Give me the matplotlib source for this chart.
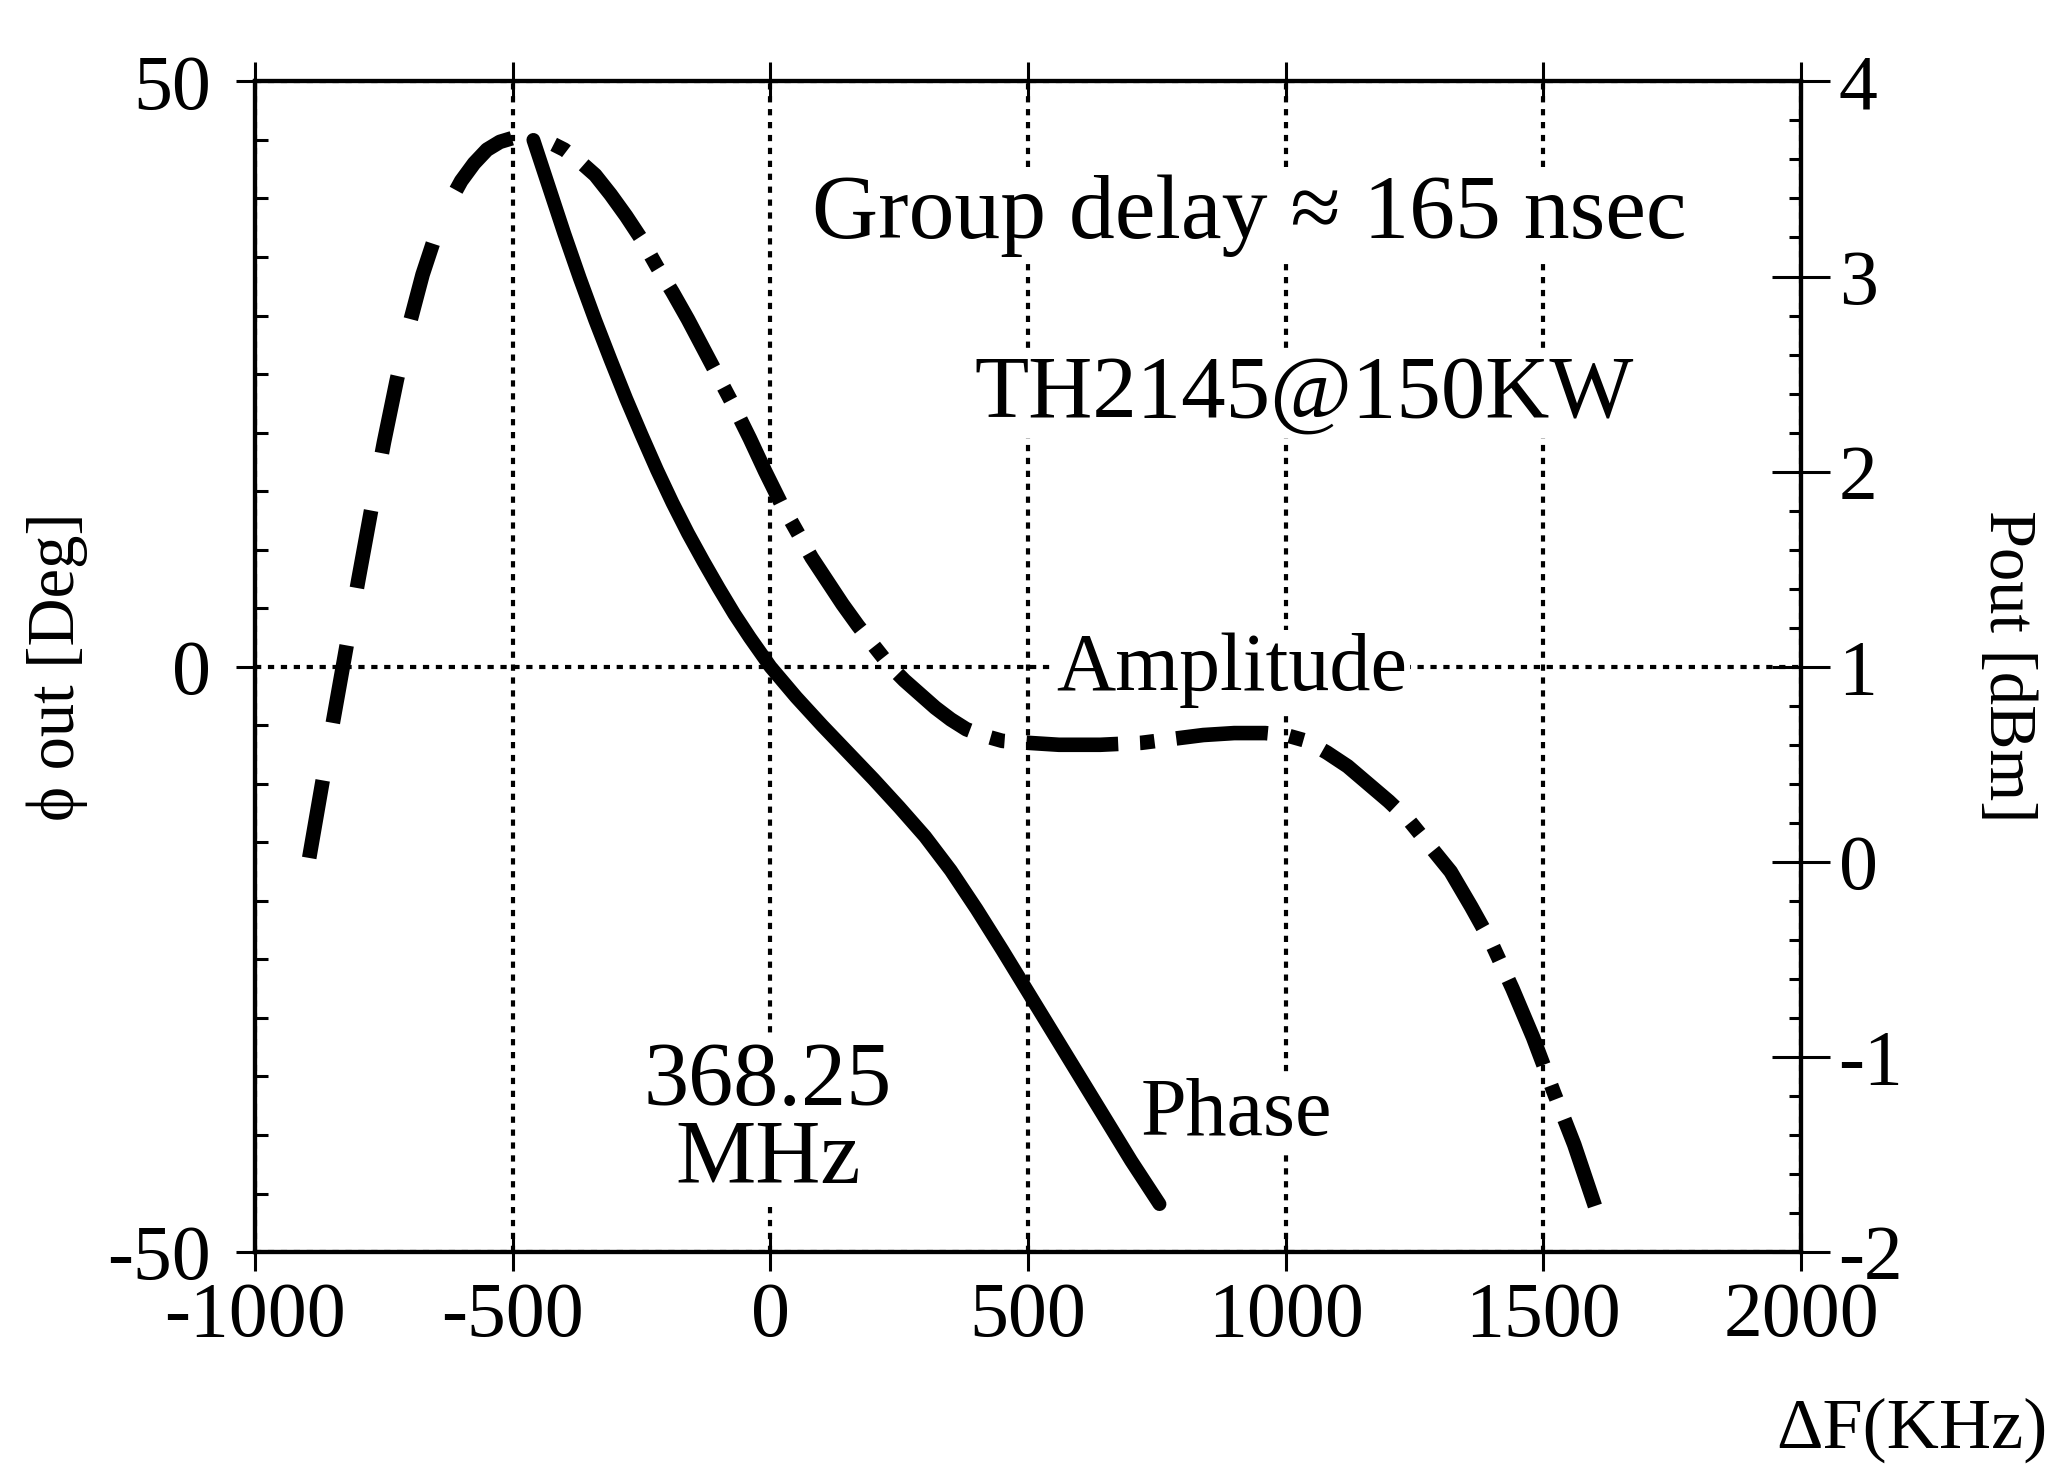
import numpy as np
import matplotlib
matplotlib.use('Agg')
import matplotlib.pyplot as plt
from matplotlib.ticker import MultipleLocator

plt.rcParams['font.family'] = ['Liberation Serif', 'DejaVu Serif']
plt.rcParams['axes.unicode_minus'] = False

# phase (left axis, deg) vs frequency offset (kHz)
phase_f = [-460, -430, -400, -370, -340, -310, -280, -250, -220, -190, -160, -130, -100, -70, -40, 0,
           50, 100, 150, 200, 250, 300, 350, 400, 450, 500, 550, 600, 650, 700, 755]
phase_deg = [45.0, 41.0, 37.0, 33.2, 29.6, 26.2, 22.9, 19.8, 16.8, 14.0, 11.4, 9.0, 6.7, 4.5, 2.5, 0.0,
             -2.6, -5.0, -7.3, -9.6, -12.0, -14.5, -17.4, -20.7, -24.2, -27.8, -31.4, -35.0, -38.6, -42.2, -45.9]

# amplitude (right axis, dBm): rising part up to the peak, then falling part
amp_rise_f = [-895, -870, -850, -825, -800, -775, -750, -725, -700, -675, -650, -625, -600, -575, -550,
              -525, -500, -475, -461]
amp_rise = [0.02, 0.40, 0.70, 1.07, 1.44, 1.80, 2.15, 2.47, 2.76, 3.01, 3.21, 3.37, 3.49, 3.58, 3.65,
            3.69, 3.71, 3.72, 3.71]
amp_fall_f = [-461, -430, -400, -370, -340, -310, -280, -250, -220, -190, -160, -130, -100, -70, -40, -10,
              20, 50, 80, 110, 140, 170, 200, 230, 260, 290, 320, 350, 380, 410, 450, 500, 560, 640, 720,
              780, 840, 900, 960, 1000, 1040, 1080, 1120, 1160, 1200, 1240, 1280, 1320, 1360, 1400, 1440,
              1480, 1520, 1560, 1611]
amp_fall = [3.71, 3.69, 3.65, 3.59, 3.52, 3.42, 3.31, 3.19, 3.05, 2.92, 2.78, 2.63, 2.48, 2.33, 2.17, 2.00,
            1.84, 1.70, 1.56, 1.44, 1.32, 1.21, 1.11, 1.01, 0.93, 0.86, 0.79, 0.73, 0.68, 0.65, 0.62, 0.61,
            0.60, 0.60, 0.61, 0.63, 0.65, 0.66, 0.66, 0.65, 0.62, 0.56, 0.49, 0.40, 0.31, 0.21, 0.08, -0.05,
            -0.23, -0.42, -0.65, -0.90, -1.18, -1.45, -1.85]

fig = plt.figure(figsize=(20.49, 14.80), dpi=100)
ax = fig.add_axes([0.1245, 0.154, 0.7545, 0.791])
ax2 = ax.twinx()

ax.plot(phase_f, phase_deg, color='black', lw=10, solid_capstyle='round',
        solid_joinstyle='round', zorder=3)
ax2.plot(amp_rise_f, amp_rise, color='black', lw=10.5, linestyle=(0, (5.4, 4.0)), zorder=3)
ax2.plot(amp_fall_f, amp_fall, color='black', lw=10.5,
         linestyle=(6.3, (6.3, 1.5, 1.0, 1.5)), zorder=3)

ax.set_xlim(-1000, 2000)
ax.set_ylim(-50, 50)
ax2.set_ylim(-2, 4)
ax.set_xticks([-1000, -500, 0, 500, 1000, 1500, 2000])
ax.set_yticks([-50, 0, 50])
ax.yaxis.set_minor_locator(MultipleLocator(5))
ax2.set_yticks([-2, -1, 0, 1, 2, 3, 4])
ax2.yaxis.set_minor_locator(MultipleLocator(0.2))

ax.grid(True, which='major', color='black', lw=3, dashes=(1.5, 1.6))

for a in (ax, ax2):
    for s in a.spines.values():
        s.set_linewidth(3)

ax.tick_params(axis='x', which='major', direction='inout', length=28, width=2.2,
               top=True, bottom=True, labelsize=56, pad=7)
ax.tick_params(axis='y', which='major', direction='out', length=14, width=2.2,
               labelsize=56, pad=18)
ax.tick_params(axis='y', which='minor', direction='in', length=9, width=2.2)
ax2.tick_params(axis='y', which='major', direction='inout', length=42, width=2.2,
                labelsize=56, pad=6)
ax2.tick_params(axis='y', which='minor', direction='in', length=9, width=2.2)

ax.set_ylabel('\u03d5 out [Deg]', fontsize=48)
ax.yaxis.set_label_coords(-0.108, 0.5)
ax2.set_ylabel('Pout [dBm]', fontsize=48, rotation=-90, va='center')
ax2.yaxis.set_label_coords(1.1326, 0.5)
fig.text(0.933, 0.022, '\u0394F(KHz)', fontsize=52, ha='center', va='baseline')

box = dict(facecolor='white', edgecolor='none', pad=2)
ax.text(929, 36.6, 'Group delay \u2248 165 nsec', fontsize=66, ha='center', va='baseline', bbox=box, zorder=4)
ax.text(1035, 21.4, 'TH2145@150KW', fontsize=64, ha='center', va='baseline', bbox=box, zorder=4)
ax.text(896, -2.0, 'Amplitude', fontsize=59, ha='center', va='baseline', bbox=box, zorder=4)
ax.text(-5, -37.4, '368.25', fontsize=65, ha='center', va='baseline', bbox=box, zorder=4)
ax.text(-5, -44.1, 'MHz', fontsize=65, ha='center', va='baseline', bbox=box, zorder=4)
ax.text(904, -40.0, 'Phase', fontsize=59, ha='center', va='baseline', bbox=box, zorder=4)

fig.savefig('out.png', dpi=100)
